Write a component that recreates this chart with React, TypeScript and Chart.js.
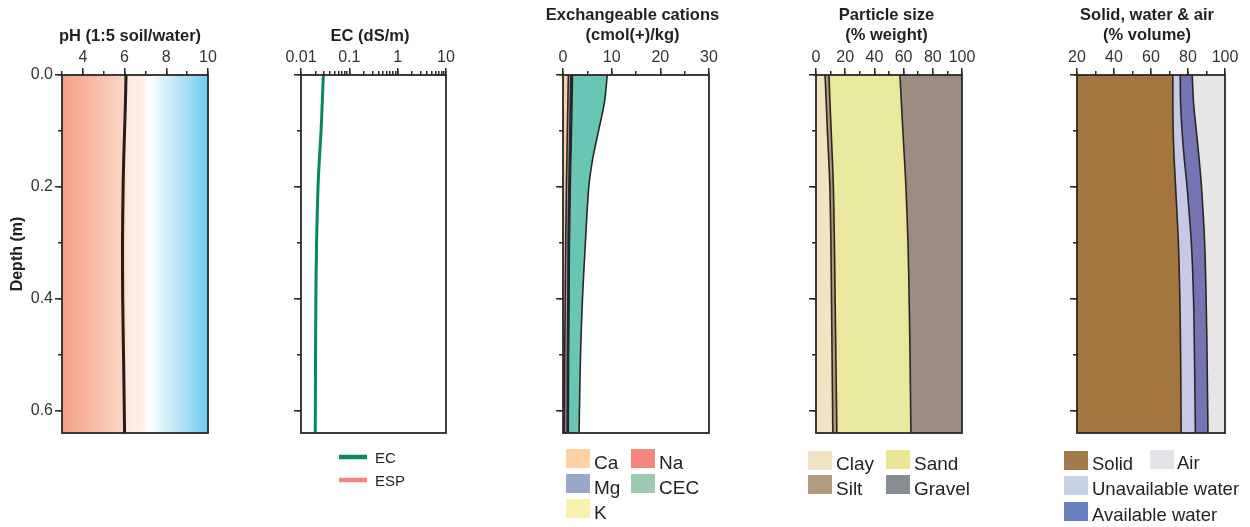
import React, { useEffect, useRef } from 'react';
import { Chart, registerables } from 'chart.js';

Chart.register(...registerables);

const FONT = "'Liberation Sans', Arial, Helvetica, sans-serif";
const INK = '#2a2623';
const TEXT = '#231f20';
Chart.defaults.font.family = FONT;
Chart.defaults.color = TEXT;

// ---------- data ----------
const depths = [0, 0.05, 0.1, 0.15, 0.2, 0.3, 0.4, 0.5, 0.64];
const depthRange = [0, 0.64];
const depthMajorTicks = [0, 0.2, 0.4, 0.6];
const depthMinorTicks = [0, 0.1, 0.2, 0.3, 0.4, 0.5, 0.6];

const phValues = [6.07, 6.04, 6.0, 5.96, 5.93, 5.9, 5.91, 5.95, 6.0];
const phRange = [3, 10];
const phMajorTicks = [4, 6, 8, 10];
const phMinorTicks = [3, 4, 5, 6, 7, 8, 9, 10];

const ecLabels = ['EC', 'ESP'];
const ecValues = [0.029, 0.0275, 0.026, 0.024, 0.0225, 0.021, 0.0203, 0.02, 0.0197];
const espValues: number[] = [];
const ecRange = [0.01, 10];
const ecMajorTicks = [0.01, 0.1, 1, 10];
const ecMinorTicks = [
  0.01, 0.02, 0.03, 0.04, 0.05, 0.06, 0.07, 0.08, 0.09,
  0.1, 0.2, 0.3, 0.4, 0.5, 0.6, 0.7, 0.8, 0.9,
  1, 2, 3, 4, 5, 6, 7, 8, 9, 10,
];

const cationLabels = ['Ca', 'Mg', 'K', 'Na', 'CEC'];
const caValues = [1.1, 1.0, 0.9, 0.8, 0.7, 0.55, 0.45, 0.35, 0.3];
const mgValues = [0.5, 0.5, 0.5, 0.5, 0.5, 0.5, 0.55, 0.55, 0.55];
const kValues = [0.2, 0.2, 0.2, 0.18, 0.17, 0.16, 0.15, 0.15, 0.15];
const naValues = [0.15, 0.15, 0.14, 0.13, 0.12, 0.11, 0.1, 0.1, 0.1];
const cecValues = [9.1, 8.5, 7.3, 6.1, 5.3, 4.6, 4.0, 3.6, 3.3];
const cationRange = [0, 30];
const cationMajorTicks = [0, 10, 20, 30];
const cationMinorTicks = [0, 5, 10, 15, 20, 25, 30];

const particleLabels = ['Clay', 'Silt', 'Sand', 'Gravel'];
const clayValues = [6.2, 7.0, 7.8, 8.7, 9.5, 10.2, 10.6, 11.0, 11.5];
const siltValues = [2.7, 2.6, 2.6, 2.5, 2.4, 2.4, 2.5, 2.6, 2.8];
const sandValues = [48.6, 48.9, 49.1, 49.4, 49.7, 50.4, 50.7, 50.8, 50.7];
const gravelValues = [42.5, 41.5, 40.5, 39.4, 38.4, 37.0, 36.2, 35.6, 35.0];
const particleRange = [0, 100];
const particleMajorTicks = [0, 20, 40, 60, 80, 100];
const particleMinorTicks = [0, 10, 20, 30, 40, 50, 60, 70, 80, 90, 100];

const volumeLabels = ['Solid', 'Unavailable water', 'Available water', 'Air'];
const solidValues = [71.8, 71.8, 72.0, 72.5, 73.3, 74.8, 75.6, 76.0, 76.3];
const unavailableValues = [4.0, 4.2, 4.8, 5.5, 6.2, 7.0, 7.4, 7.5, 7.7];
const availableValues = [6.5, 7.0, 7.7, 8.0, 7.8, 7.2, 6.8, 6.8, 6.8];
const airValues = [17.7, 17.0, 15.5, 14.0, 12.7, 11.0, 10.2, 9.7, 9.2];
const volumeRange = [20, 100];
const volumeMajorTicks = [20, 40, 60, 80, 100];
const volumeMinorTicks = [20, 30, 40, 50, 60, 70, 80, 90, 100];

// ---------- helpers ----------
const pts = (vals: number[]) => vals.map((v, i) => ({ x: v, y: depths[i] }));
const cumulate = (...arrs: number[][]) => {
  const out: number[][] = [];
  let run = arrs[0].map(() => 0);
  for (const a of arrs) {
    run = run.map((r, i) => r + a[i]);
    out.push(run);
  }
  return out;
};
const constant = (v: number) => depths.map(() => v);

const baseDs = (vals: number[]) => ({
  label: '_base', data: pts(vals), fill: false, borderWidth: 0, pointRadius: 0, borderColor: 'rgba(0,0,0,0)',
});
const areaDs = (label: string, vals: number[], color: string, bw = 1.6) => ({
  label, data: pts(vals), fill: '-1', backgroundColor: color, borderColor: INK,
  borderWidth: bw, pointRadius: 0, tension: 0.3,
});

type LegendEntry = { label: string; color: string; kind: 'box' | 'line'; x: number; y: number; tx: number; ty: number; size: number };

type PanelSpec = {
  left: number; width: number; axisW: number; padRight: number;
  xType: 'linear' | 'logarithmic'; xRange: number[]; xMajor: number[]; xMinor: number[];
  title: string[]; titleX: number; depthLabels: boolean; datasets: any[]; legend: LegendEntry[];
  gradient?: [number, string][];
};

const framePlugin = {
  id: 'frame',
  afterDatasetsDraw(chart: any) {
    const { ctx, chartArea: a } = chart;
    ctx.save();
    ctx.strokeStyle = INK;
    ctx.lineWidth = 1.8;
    ctx.strokeRect(a.left, a.top, a.right - a.left, a.bottom - a.top);
    ctx.restore();
  },
};

const titlePlugin = (lines: string[], x: number) => ({
  id: 'panelTitle',
  afterDraw(chart: any) {
    const ctx = chart.ctx;
    ctx.save();
    ctx.fillStyle = TEXT;
    ctx.font = `bold 16.5px ${FONT}`;
    ctx.textAlign = 'center';
    ctx.textBaseline = 'middle';
    const startY = lines.length > 1 ? 15 : 36;
    lines.forEach((t, i) => ctx.fillText(t, x, startY + i * 20));
    ctx.restore();
  },
});

const gradientPlugin = (stops: [number, string][]) => ({
  id: 'phGradient',
  beforeDatasetsDraw(chart: any) {
    const { ctx, chartArea: a, scales } = chart;
    const g = ctx.createLinearGradient(a.left, 0, a.right, 0);
    const w = a.right - a.left;
    for (const [v, c] of stops) {
      const p = (scales.x.getPixelForValue(v) - a.left) / w;
      g.addColorStop(Math.min(1, Math.max(0, p)), c);
    }
    ctx.save();
    ctx.fillStyle = g;
    ctx.fillRect(a.left, a.top, w, a.bottom - a.top);
    ctx.restore();
  },
});

const legendPlugin = (entries: LegendEntry[], offsetX: number) => ({
  id: 'panelLegend',
  afterDraw(chart: any) {
    const ctx = chart.ctx;
    ctx.save();
    for (const e of entries) {
      if (e.kind === 'box') {
        ctx.fillStyle = e.color;
        ctx.fillRect(e.x - offsetX, e.y, 24, 19);
      } else {
        ctx.strokeStyle = e.color;
        ctx.lineWidth = 4.5;
        ctx.beginPath();
        ctx.moveTo(e.x - offsetX, e.y);
        ctx.lineTo(e.x - offsetX + 28, e.y);
        ctx.stroke();
      }
      ctx.fillStyle = TEXT;
      ctx.font = `${e.size}px ${FONT}`;
      ctx.textAlign = 'left';
      ctx.textBaseline = 'alphabetic';
      ctx.fillText(e.label, e.tx - offsetX, e.ty);
    }
    ctx.restore();
  },
});

const setTicks = (list: number[]) => (scale: any) => {
  scale.ticks = list.map((v) => ({ value: v }));
};

function buildConfig(s: PanelSpec): any {
  const plugins: any[] = [framePlugin, legendPlugin(s.legend, s.left), titlePlugin(s.title, s.titleX - s.left)];
  if (s.gradient) plugins.unshift(gradientPlugin(s.gradient));
  const tickGrid = (len: number) => ({
    display: true, drawOnChartArea: false, drawTicks: true, tickLength: len, color: INK, lineWidth: 1.5,
  });
  return {
    type: 'line',
    data: { datasets: s.datasets.map((d) => ({ ...d, xAxisID: 'x', yAxisID: 'y' })) },
    plugins,
    options: {
      indexAxis: 'y',
      responsive: false,
      maintainAspectRatio: false,
      animation: false,
      devicePixelRatio: 1,
      events: [],
      layout: { padding: { top: 0, left: 0, right: s.padRight, bottom: 94 } },
      plugins: { legend: { display: false }, tooltip: { enabled: false }, title: { display: false } },
      scales: {
        x: {
          type: s.xType, min: s.xRange[0], max: s.xRange[1], position: 'top', weight: 1,
          afterBuildTicks: setTicks(s.xMajor),
          afterFit: (sc: any) => { sc.height = 75; },
          grid: tickGrid(7),
          border: { display: false },
          ticks: {
            display: true, autoSkip: false, maxRotation: 0, padding: 1, color: '#333',
            font: { size: 16 }, callback: (v: any) => String(v),
          },
          title: { display: false },
        },
        x2: {
          type: s.xType, min: s.xRange[0], max: s.xRange[1], position: 'top', weight: 0,
          afterBuildTicks: setTicks(s.xMinor),
          afterFit: (sc: any) => { sc.height = 0; },
          grid: tickGrid(4),
          border: { display: false },
          ticks: { display: false },
        },
        y: {
          type: 'linear', min: depthRange[0], max: depthRange[1], reverse: true, position: 'left', weight: 1,
          afterBuildTicks: setTicks(depthMajorTicks),
          afterFit: (sc: any) => { sc.width = s.axisW; },
          grid: tickGrid(7),
          border: { display: false },
          ticks: {
            display: s.depthLabels, autoSkip: false, padding: 2, color: '#333',
            font: { size: 16 }, callback: (v: any) => Number(v).toFixed(1),
          },
          title: {
            display: s.depthLabels, text: 'Depth (m)', color: TEXT,
            font: { size: 16, weight: 'bold', lineHeight: 1.2 }, padding: { top: 8, bottom: 0 },
          },
        },
        y2: {
          type: 'linear', min: depthRange[0], max: depthRange[1], reverse: true, position: 'left', weight: 0,
          afterBuildTicks: setTicks(depthMinorTicks),
          afterFit: (sc: any) => { sc.width = 0; },
          grid: tickGrid(4),
          border: { display: false },
          ticks: { display: false },
        },
      },
    },
  };
}

// ---------- panels ----------
const [cCa, cMg, cK, cNa] = cumulate(caValues, mgValues, kValues, naValues);
const [cClay, cSilt, cSand, cGravel] = cumulate(clayValues, siltValues, sandValues, gravelValues);
const [cSolid, cUnav, cAvail, cAir] = cumulate(solidValues, unavailableValues, availableValues, airValues);

const panels: PanelSpec[] = [
  {
    left: 0, width: 230, axisW: 62, padRight: 22,
    xType: 'linear', xRange: phRange, xMajor: phMajorTicks, xMinor: phMinorTicks,
    title: ['pH (1:5 soil/water)'], titleX: 130, depthLabels: true,
    gradient: [
      [3, '#f4a083'], [6, '#fbd6c8'], [6.1, '#fde8df'], [6.95, '#fff1eb'],
      [7.15, '#ffffff'], [8.5, '#bfe5f8'], [10, '#6ecbf2'],
    ],
    datasets: [
      { label: 'pH', data: pts(phValues), borderColor: '#231f1c', borderWidth: 3, pointRadius: 0, fill: false, tension: 0.3 },
    ],
    legend: [],
  },
  {
    left: 240, width: 230, axisW: 61, padRight: 24,
    xType: 'logarithmic', xRange: ecRange, xMajor: ecMajorTicks, xMinor: ecMinorTicks,
    title: ['EC (dS/m)'], titleX: 370, depthLabels: false,
    datasets: [
      { label: ecLabels[0], data: pts(ecValues), borderColor: '#07875a', borderWidth: 3, pointRadius: 0, fill: false, tension: 0.3 },
      { label: ecLabels[1], data: pts(espValues), borderColor: '#f7877a', borderWidth: 3, pointRadius: 0, fill: false },
    ],
    legend: [
      { label: ecLabels[0], color: '#0a8a5a', kind: 'line', x: 339, y: 457, tx: 375, ty: 463, size: 15 },
      { label: ecLabels[1], color: '#f7877a', kind: 'line', x: 339, y: 480, tx: 375, ty: 486, size: 15 },
    ],
  },
  {
    left: 490, width: 240, axisW: 73, padRight: 21,
    xType: 'linear', xRange: cationRange, xMajor: cationMajorTicks, xMinor: cationMinorTicks,
    title: ['Exchangeable cations', '(cmol(+)/kg)'], titleX: 632.5, depthLabels: false,
    datasets: [
      baseDs(constant(cationRange[0])),
      areaDs(cationLabels[0], cCa, '#f9cf9e'),
      areaDs(cationLabels[1], cMg, '#9d9fd3'),
      areaDs(cationLabels[2], cK, '#f7eea8'),
      areaDs(cationLabels[3], cNa, '#f4877b'),
      areaDs(cationLabels[4], cecValues, '#69c6b5'),
    ],
    legend: [
      { label: cationLabels[0], color: '#fdd1a5', kind: 'box', x: 566, y: 449, tx: 594, ty: 469, size: 19 },
      { label: cationLabels[3], color: '#f4877b', kind: 'box', x: 631, y: 449, tx: 659, ty: 469, size: 19 },
      { label: cationLabels[1], color: '#99a7cf', kind: 'box', x: 566, y: 474, tx: 594, ty: 494, size: 19 },
      { label: cationLabels[4], color: '#9ccab3', kind: 'box', x: 631, y: 474, tx: 659, ty: 494, size: 19 },
      { label: cationLabels[2], color: '#f9f1ae', kind: 'box', x: 566, y: 499, tx: 594, ty: 519, size: 19 },
    ],
  },
  {
    left: 750, width: 240, axisW: 66, padRight: 28,
    xType: 'linear', xRange: particleRange, xMajor: particleMajorTicks, xMinor: particleMinorTicks,
    title: ['Particle size', '(% weight)'], titleX: 886.5, depthLabels: false,
    datasets: [
      baseDs(constant(particleRange[0])),
      areaDs(particleLabels[0], cClay, '#f3e3c5'),
      areaDs(particleLabels[1], cSilt, '#b3977a'),
      areaDs(particleLabels[2], cSand, '#e9e99d'),
      areaDs(particleLabels[3], cGravel, '#9c8c83', 0),
    ],
    legend: [
      { label: particleLabels[0], color: '#f1e2c5', kind: 'box', x: 808, y: 451, tx: 836, ty: 470, size: 19 },
      { label: particleLabels[2], color: '#ebe592', kind: 'box', x: 886, y: 450, tx: 914, ty: 470, size: 19 },
      { label: particleLabels[1], color: '#b49a7d', kind: 'box', x: 808, y: 475, tx: 836, ty: 495, size: 19 },
      { label: particleLabels[3], color: '#878d93', kind: 'box', x: 886, y: 475, tx: 914, ty: 495, size: 19 },
    ],
  },
  {
    left: 1000, width: 250, axisW: 77, padRight: 25,
    xType: 'linear', xRange: volumeRange, xMajor: volumeMajorTicks, xMinor: volumeMinorTicks,
    title: ['Solid, water & air', '(% volume)'], titleX: 1147, depthLabels: false,
    datasets: [
      baseDs(constant(volumeRange[0])),
      areaDs(volumeLabels[0], cSolid, '#a4763f'),
      areaDs(volumeLabels[1], cUnav, '#c8cae5'),
      areaDs(volumeLabels[2], cAvail, '#7575b5'),
      areaDs(volumeLabels[3], cAir, '#e8e5e5', 0),
    ],
    legend: [
      { label: volumeLabels[0], color: '#a57a4b', kind: 'box', x: 1064, y: 451, tx: 1092, ty: 470, size: 18.5 },
      { label: volumeLabels[3], color: '#e3e3e8', kind: 'box', x: 1150, y: 450, tx: 1177, ty: 469, size: 18.5 },
      { label: volumeLabels[1], color: '#c6d0e6', kind: 'box', x: 1064, y: 476, tx: 1092, ty: 495, size: 18.5 },
      { label: volumeLabels[2], color: '#6b80bf', kind: 'box', x: 1064, y: 502, tx: 1092, ty: 521, size: 18.5 },
    ],
  },
];

function Panel({ spec }: { spec: PanelSpec }) {
  const ref = useRef<HTMLCanvasElement>(null);
  useEffect(() => {
    const chart = new Chart(ref.current as HTMLCanvasElement, buildConfig(spec));
    return () => chart.destroy();
  }, [spec]);
  return (
    <canvas
      ref={ref}
      width={spec.width}
      height={527}
      style={{ position: 'absolute', left: spec.left, top: 0, width: spec.width, height: 527 }}
    />
  );
}

export default function App() {
  return (
    <div style={{ position: 'absolute', left: 0, top: 0, width: 1250, height: 527, background: '#ffffff', overflow: 'hidden' }}>
      {panels.map((p, i) => (
        <Panel key={i} spec={p} />
      ))}
    </div>
  );
}
